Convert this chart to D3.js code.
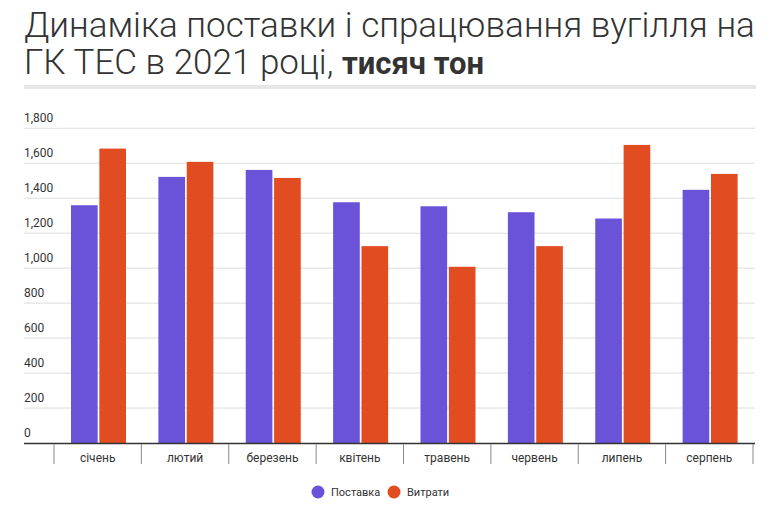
<!DOCTYPE html><html><head><meta charset="utf-8"><script src="https://cdn.jsdelivr.net/npm/d3@7"></script>
<style>body{margin:0;background:#fff;font-family:Roboto,sans-serif}</style></head><body><svg id="c" width="780" height="508"></svg>
<script>
const months=["січень","лютий","березень","квітень","травень","червень","липень","серпень"];
const supply=[1360,1522,1562,1377,1354,1320,1284,1448];
const usage=[1684,1608,1516,1126,1008,1126,1705,1539];
const seriesNames=["Поставка","Витрати"];
const colors=["#6a52d9","#e24c21"];
const yTicks=[0,200,400,600,800,1000,1200,1400,1600,1800];
const svg=d3.select("#c");
const t=svg.append("text").attr("x",24).attr("font-size",35).attr("font-weight",300).attr("fill","#333");
t.append("tspan").attr("x",24).attr("y",37).text("Динаміка поставки і спрацювання вугілля на");
const t2=t.append("tspan").attr("x",24).attr("y",74).text("ГК ТЕС в 2021 році, ");
t.append("tspan").attr("font-weight",700).attr("font-size",31).text("тисяч тон");
svg.append("rect").attr("x",24).attr("y",85).attr("width",732).attr("height",4).attr("fill","#e6e6e6");
const y=d3.scaleLinear().domain([0,1800]).range([443,128.3]);
const x=d3.scaleBand().domain(months).range([54,753]);
const xs=d3.scaleBand().domain([0,1]).range([17,72]).paddingInner(0.06);
svg.append("g").selectAll("line").data(yTicks).join("line").attr("x1",24).attr("x2",755).attr("y1",d=>y(d)).attr("y2",d=>y(d)).attr("stroke",d=>d?"#ddd":"none");
svg.append("g").selectAll("text").data(yTicks).join("text").attr("x",24).attr("y",d=>y(d)-6).attr("font-size",12).attr("fill","#333").text(d3.format(","));
const g=svg.append("g").selectAll("g").data(months).join("g").attr("transform",d=>`translate(${x(d)},0)`);
[supply,usage].forEach((arr,s)=>{g.append("rect").attr("x",xs(s)).attr("width",xs.bandwidth()).attr("y",(d,i)=>y(arr[i])).attr("height",(d,i)=>y(0)-y(arr[i])).attr("fill",colors[s]);});
svg.append("line").attr("x1",24).attr("x2",755).attr("y1",443.5).attr("y2",443.5).attr("stroke","#333").attr("stroke-width",1.5);
const xa=svg.append("g").attr("transform","translate(0,443)").call(d3.axisBottom(x).tickSize(0).tickPadding(10));
xa.select(".domain").remove();xa.selectAll("text").attr("font-size",12).attr("fill","#333").attr("font-family","Roboto");
svg.append("g").selectAll("line").data(d3.range(months.length+1)).join("line").attr("x1",i=>54+i*x.step()).attr("x2",i=>54+i*x.step()).attr("y1",444).attr("y2",464).attr("stroke","#888");
const lg=svg.append("g");
[[318,0],[394,1]].forEach(([lx,s])=>{lg.append("circle").attr("cx",lx).attr("cy",492).attr("r",6.5).attr("fill",colors[s]);lg.append("text").attr("x",lx+13).attr("y",496).attr("font-size",11).attr("fill","#333").text(seriesNames[s]);});
</script></body></html>
